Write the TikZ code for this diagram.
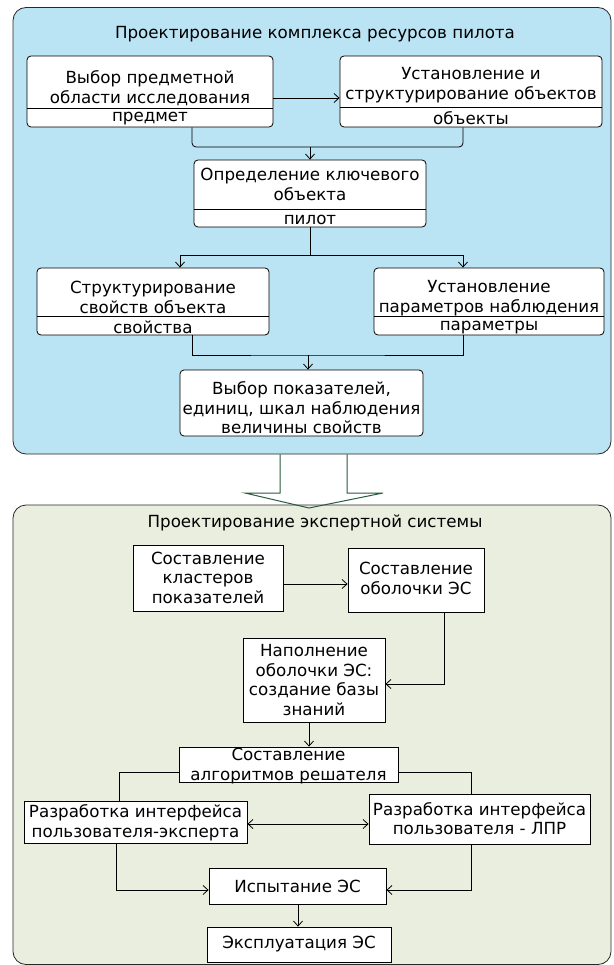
\documentclass[tikz,border=0pt]{standalone}
\usepackage{fontspec}
\setmainfont{DejaVu Sans}
\usetikzlibrary{arrows.meta,fit}
\definecolor{panelblue}{RGB}{186,227,243}
\definecolor{panelgreen}{RGB}{233,238,223}
\definecolor{arrowgreen}{RGB}{40,92,60}
\definecolor{panelline}{RGB}{40,40,40}
\newcommand{\mfs}{\fontsize{16.7}{19.5}\selectfont}
\tikzset{
  panel/.style={draw=panelline, line width=0.8pt, rounded corners=13pt, inner sep=0pt},
  pbox/.style={draw=black, fill=white, line width=0.8pt, rounded corners=4pt, inner sep=0pt},
  sbox/.style={draw=black, fill=white, line width=0.8pt, inner sep=0pt},
  txt/.style={align=center, inner sep=0pt, font=\mfs},
  conn/.style={draw=black, line width=0.8pt},
  arr/.style={conn, -{Straight Barb[length=5pt,width=9pt]}},
  darr/.style={conn, {Straight Barb[length=5pt,width=9pt]}-{Straight Barb[length=5pt,width=9pt]}},
  hollow/.style={draw=arrowgreen, line width=1pt},
}
\begin{document}
\begin{tikzpicture}[x=1pt,y=-1pt]
\useasboundingbox (0,0) rectangle (613,965);
\fill[white] (0,0) rectangle (613,965);

% ---------- top panel ----------
\node[panel, fill=panelblue, fit={(13,7.5) (611,454)}] (top) {};
\node[txt] (toptitle) at (315,34) {Проектирование комплекса ресурсов пилота};

\node[pbox, fit={(27,56) (273,127)}] (b1) {};
\draw[conn] (27,108) -- (273,108);
\node[txt] (b1t) at (150,88) {Выбор предметной\\области исследования};
\node[txt] (b1l) at (150,119) {предмет};

\node[pbox, fit={(340,56) (602,127)}] (b2) {};
\draw[conn] (340,107) -- (602,107);
\node[txt] (b2t) at (471,85) {Установление и\\структурирование объектов};
\node[txt] (b2l) at (471,118.5) {объекты};

\node[pbox, fit={(194,160) (426,227)}] (b3) {};
\draw[conn] (194,209) -- (426,209);
\node[txt] (b3t) at (310,184.5) {Определение ключевого\\объекта};
\node[txt] (b3l) at (310,219.5) {пилот};

\node[pbox, fit={(37,268) (269,335)}] (b4) {};
\draw[conn] (37,316) -- (269,316);
\node[txt] (b4t) at (153,297.5) {Структурирование\\свойств объекта};
\node[txt] (b4l) at (153,327) {свойства};

\node[pbox, fit={(374,268) (604,335)}] (b5) {};
\draw[conn] (374,316) -- (604,316);
\node[txt] (b5t) at (489,298) {Установление\\параметров наблюдения};
\node[txt] (b5l) at (489,327.5) {параметры};

\node[pbox, fit={(180,370) (423,436)}] (b6) {};
\node[txt] (b6t) at (301.5,408) {Выбор показателей,\\единиц, шкал наблюдения\\величины свойств};

% top connectors
\coordinate (ya) at (0,98);
\draw[arr] (b1.east |- ya) -- (b2.west |- ya);
\coordinate (j1) at (310,147);
\coordinate (xa) at (192,0);
\coordinate (xb) at (463,0);
\draw[conn, rounded corners=4pt] (b1.south -| xa) |- (j1) -| (b2.south -| xb);
\draw[arr] (j1) -- (b3.north);
\coordinate (j2) at (310,255);
\coordinate (xc) at (180,0);
\draw[conn] (b3.south) -- (j2);
\draw[arr] (j2) -| (b4.north -| xc);
\draw[arr] (j2) -| (b5.north -| xb);
\coordinate (j3) at (308,355);
\draw[conn] (b4.south -| xa) |- (j3) -| (b5.south -| xb);
\draw[arr] (j3) -- (b6.north -| j3);

% ---------- bottom panel ----------
\node[panel, fill=panelgreen, fit={(13,505) (611,964.5)}] (bot) {};
\node[txt] (bottitle) at (315,523) {Проектирование экспертной системы};

% hollow arrow between panels
\draw[hollow] (top.south -| 280,0) -- (280,493) -- (245,493) -- (309,508)
  -- (383,493) -- (347,493) -- (top.south -| 347,0);

\node[sbox, fit={(133,545) (283,611)}] (s1) {};
\node[txt] (s1t) at (208,577.5) {Составление\\кластеров\\показателей};

\node[sbox, fit={(348,548) (484,612)}] (s2) {};
\node[txt] (s2t) at (416,578.5) {Составление\\оболочки ЭС};

\node[sbox, fit={(243,638) (385,722)}] (s3) {};
\node[txt] (s3t) at (314,680) {Наполнение\\оболочки ЭС:\\создание базы\\знаний};

\node[sbox, fit={(179,747) (398,782)}] (s4) {};
\node[txt] (s4t) at (288.5,766) {Составление\\алгоритмов решателя};

\node[sbox, fit={(24,801) (247,843)}] (s5) {};
\node[txt] (s5t) at (135.5,822.5) {Разработка интерфейса\\пользователя-эксперта};

\node[sbox, fit={(369,794) (590,844)}] (s6) {};
\node[txt] (s6t) at (479.5,818.5) {Разработка интерфейса\\пользователя - ЛПР};

\node[sbox, fit={(209,868) (386,904)}] (s7) {};
\node[txt] (s7t) at (297.5,886) {Испытание ЭС};

\node[sbox, fit={(207,927) (391,962)}] (s8) {};
\node[txt] (s8t) at (299,944.5) {Эксплуатация ЭС};

% bottom connectors
\coordinate (k1) at (0,584);
\draw[arr] (s1.east |- k1) -- (s2.west |- k1);
\coordinate (k2) at (444,684);
\draw[arr] (s2.south -| k2) |- (s3.east |- k2);
\coordinate (k3) at (309,0);
\draw[arr] (s3.south -| k3) -- (s4.north -| k3);
\coordinate (k4) at (119,772);
\draw[conn] (s4.west |- k4) -| (s5.north -| k4);
\coordinate (k5) at (471,772);
\draw[conn] (s4.east |- k5) -| (s6.north -| k5);
\coordinate (k6) at (0,824);
\draw[darr] (s5.east |- k6) -- (s6.west |- k6);
\coordinate (k7) at (116,890);
\draw[arr] (s5.south -| k7) |- (s7.west |- k7);
\coordinate (k8) at (471,890);
\draw[arr] (s6.south -| k8) |- (s7.east |- k8);
\coordinate (k9) at (298,0);
\draw[arr] (s7.south -| k9) -- (s8.north -| k9);
\end{tikzpicture}
\end{document}
